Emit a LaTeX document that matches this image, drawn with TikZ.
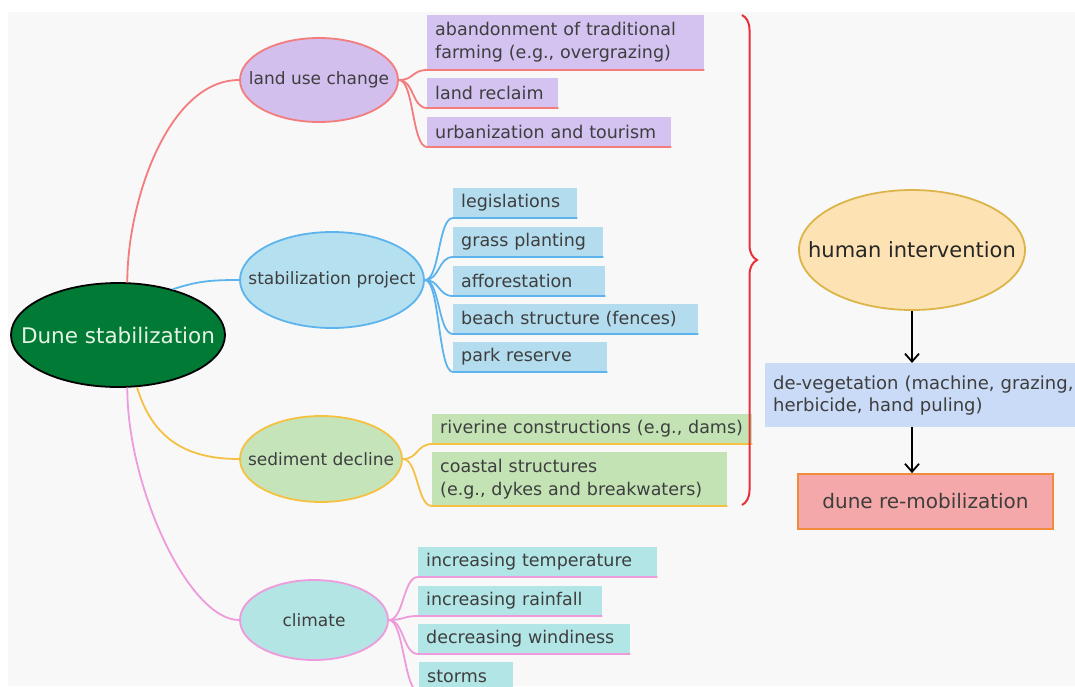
\documentclass[tikz,border=0pt]{standalone}
\usepackage{fontspec}
\setmainfont{DejaVu Sans}
\usetikzlibrary{shapes.geometric}
\usetikzlibrary{arrows.meta}
\usetikzlibrary{decorations.pathreplacing}

\definecolor{bg}{HTML}{F8F8F8}
\definecolor{txt}{HTML}{3E3E3E}
\definecolor{rootgreen}{HTML}{017A36}
\definecolor{roottext}{HTML}{E4F3E4}
\definecolor{lucfill}{HTML}{D2BFEE}
\definecolor{lucleaf}{HTML}{D4C3F0}
\definecolor{lucline}{HTML}{F47C7C}
\definecolor{stabfill}{HTML}{B5E0F0}
\definecolor{stableaf}{HTML}{B3DCEE}
\definecolor{stabline}{HTML}{5DB4EC}
\definecolor{sedfill}{HTML}{C5E4BA}
\definecolor{sedleaf}{HTML}{C3E3B5}
\definecolor{sedline}{HTML}{F6C143}
\definecolor{climfill}{HTML}{B3E5E4}
\definecolor{climleaf}{HTML}{B2E5E5}
\definecolor{climline}{HTML}{EE9BDC}
\definecolor{bracered}{HTML}{E6303C}
\definecolor{humfill}{HTML}{FDE2B3}
\definecolor{humline}{HTML}{DCB54A}
\definecolor{devegfill}{HTML}{C9DBF6}
\definecolor{remobfill}{HTML}{F4A8A9}
\definecolor{remobline}{HTML}{F08C3C}

% text that does not widen its ellipse
\newcommand\nowide[1]{\makebox[0pt]{#1}}

\tikzset{
  topic/.style={ellipse, draw, line width=1.8pt, inner sep=0pt, text=txt, font=\fontsize{17}{20}\selectfont},
  leaf/.style={anchor=south west, inner xsep=8pt, inner ysep=0pt, minimum height=30pt, align=left, text=txt, font=\fontsize{17.5}{23}\selectfont},
  twig/.style={line width=1.8pt},
}

\begin{document}
\begin{tikzpicture}[x=1pt,y=1pt]
\path[use as bounding box, clip] (0,0) rectangle (1075,-686);
\fill[bg] (8,-12) rectangle (1075,-686);

% main topics
\node[ellipse, draw=black, line width=1.8pt, fill=rootgreen, minimum width=214, minimum height=104, inner sep=0pt, text=roottext, font=\fontsize{21.5}{24}\selectfont] (root) at (118,-335) {\nowide{Dune stabilization}};
\node[topic, fill=lucfill, draw=lucline, minimum width=158, minimum height=84] (luc) at (319,-80) {\nowide{land use change}};
\node[topic, fill=stabfill, draw=stabline, minimum width=184, minimum height=96] (stab) at (332,-280) {\nowide{stabilization project}};
\node[topic, fill=sedfill, draw=sedline, minimum width=162, minimum height=86] (sed) at (321,-459) {\nowide{sediment decline}};
\node[topic, fill=climfill, draw=climline, minimum width=148, minimum height=80] (clim) at (314,-620) {\nowide{climate}};

\draw[twig, lucline] (root.80) .. controls +(0,83) and +(-70,0) .. (luc.west);
\draw[twig, stabline] (root.40) .. controls +(25,8) and +(-30,0) .. (stab.west);
\draw[twig, sedline] (root.-70) .. controls +(15,-50) and +(-55,0) .. (sed.west);
\draw[twig, climline] (root.-80) .. controls +(0,-100) and +(-50,0) .. (clim.west);

% leaves
\node[leaf, fill=lucleaf, text width=261, minimum height=55] (luc1) at (427,-70) {abandonment of traditional\\farming (e.g., overgrazing)};
\node[leaf, fill=lucleaf, text width=115] (luc2) at (427,-108) {land reclaim};
\node[leaf, fill=lucleaf, text width=228] (luc3) at (427,-147) {urbanization and tourism};

\node[leaf, fill=stableaf, text width=108] (stab1) at (453,-218) {legislations};
\node[leaf, fill=stableaf, text width=134] (stab2) at (453,-257) {grass planting};
\node[leaf, fill=stableaf, text width=136] (stab3) at (453,-296) {afforestation};
\node[leaf, fill=stableaf, text width=229] (stab4) at (453,-334) {beach structure (fences)};
\node[leaf, fill=stableaf, text width=138] (stab5) at (453,-372) {park reserve};

\node[leaf, fill=sedleaf, text width=304] (sed1) at (432,-444) {riverine constructions (e.g., dams)};
\node[leaf, fill=sedleaf, text width=279, minimum height=54] (sed2) at (432,-506) {coastal structures\\(e.g., dykes and breakwaters)};

\node[leaf, fill=climleaf, text width=223] (clim1) at (418,-577) {increasing temperature};
\node[leaf, fill=climleaf, text width=168] (clim2) at (418,-616) {increasing rainfall};
\node[leaf, fill=climleaf, text width=196] (clim3) at (418,-654) {decreasing windiness};
\node[leaf, fill=climleaf, text width=78] (clim4) at (419,-692) {storms};

\foreach \n in {luc1,luc2,luc3}
  \draw[twig, lucline] (luc.east) .. controls +(15,0) and +(-15,0) .. (\n.south west) -- (\n.south east);
\foreach \n in {stab1,stab2,stab3,stab4,stab5}
  \draw[twig, stabline] (stab.east) .. controls +(15,0) and +(-15,0) .. (\n.south west) -- (\n.south east);
\foreach \n in {sed1,sed2}
  \draw[twig, sedline] (sed.east) .. controls +(15,0) and +(-15,0) .. (\n.south west) -- (\n.south east);
\foreach \n in {clim1,clim2,clim3,clim4}
  \draw[twig, climline] (clim.east) .. controls +(15,0) and +(-15,0) .. (\n.south west) -- (\n.south east);

% brace and consequence
\coordinate (bracetop) at (742,-15);
\coordinate (bracebot) at (742,-505);
\draw[line width=2pt, bracered, decorate, decoration={brace, amplitude=15pt}] (bracetop) -- (bracebot);

\node[ellipse, draw=humline, line width=1.8pt, fill=humfill, minimum width=226, minimum height=120, inner sep=0pt, text=black!85, font=\fontsize{21}{24}\selectfont] (hum) at (912,-250) {\nowide{human intervention}};
\node[anchor=north west, fill=devegfill, text width=330, inner xsep=8pt, minimum height=64, align=left, text=txt, font=\fontsize{18}{22}\selectfont] (deveg) at (765,-363) {de-vegetation (machine, grazing,\\herbicide, hand puling)};
\node[draw=remobline, line width=1.8pt, fill=remobfill, minimum width=255, minimum height=55, text=txt, font=\fontsize{20}{24}\selectfont] (remob) at (925.5,-501.5) {dune re-mobilization};

\draw[line width=1.8pt, -{Straight Barb[length=8pt, width=14pt]}] (hum.south) -- (hum.south |- deveg.north);
\draw[line width=1.8pt, -{Straight Barb[length=8pt, width=14pt]}] (hum.south |- deveg.south) -- (hum.south |- remob.north);
\end{tikzpicture}
\end{document}
